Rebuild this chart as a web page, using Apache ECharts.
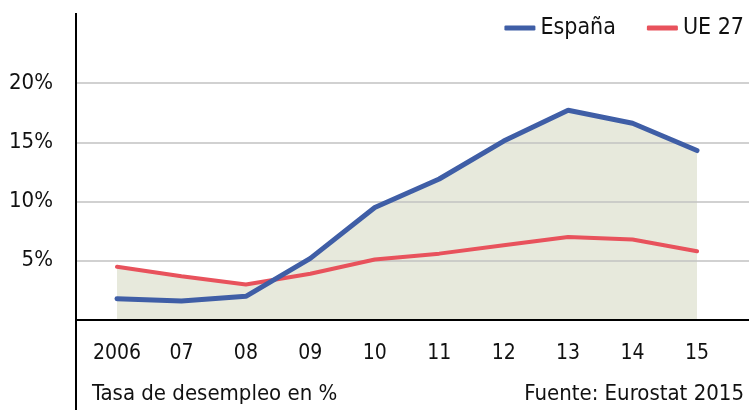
<!DOCTYPE html>
<html lang="es">
<head>
    <meta charset="utf-8" />
    <title>Tasa de desempleo</title>
    <script type="text/javascript" src="https://cdn.jsdelivr.net/npm/echarts@6/dist/echarts.min.js"></script>
    <style type="text/css">
        html, body { margin: 0; padding: 0; background: #fff; }
    </style>
</head>
<body>
    <div id="main" style="width:749px;height:410px;"></div>

    <script type="text/javascript">

        var years = ['2006', '07', '08', '09', '10', '11', '12', '13', '14', '15'];
        var espana = [1.8, 1.6, 2.0, 5.2, 9.5, 11.9, 15.1, 17.7, 16.6, 14.3];
        var ue27 = [4.5, 3.7, 3.0, 3.9, 5.1, 5.6, 6.3, 7.0, 6.8, 5.8];
        var yTicks = [0, 5, 10, 15, 20];

        var FONT = "'Liberation Sans Narrow', 'Arial Narrow', 'DejaVu Sans Condensed', sans-serif";
        var BLUE = '#3f5ea6';
        var RED = '#e8525c';
        var FILL = '#e7e9dc';

        var myChart = echarts.init(document.getElementById('main'));

        var option = {
            animation: false,
            textStyle: { fontFamily: FONT, color: '#111' },
            title: [{
                text: 'Tasa de desempleo en %',
                left: 87,
                top: 378,
                textStyle: { fontFamily: FONT, fontSize: 22, fontWeight: 'normal', color: '#111' }
            }, {
                text: 'Fuente: Eurostat 2015',
                right: 0,
                top: 378,
                textStyle: { fontFamily: FONT, fontSize: 22, fontWeight: 'normal', color: '#111' }
            }],
            legend: {
                data: [
                    { name: 'España', icon: 'roundRect', itemStyle: { color: BLUE } },
                    { name: 'UE 27', icon: 'roundRect', itemStyle: { color: RED } }
                ],
                right: 0,
                top: 10,
                itemWidth: 31,
                itemHeight: 5,
                itemGap: 31,
                textStyle: { fontFamily: FONT, fontSize: 23, color: '#111', lineHeight: 26 }
            },
            grid: [
                // frame: grid lines and axis lines
                { left: 76, right: 0, top: 83, bottom: 90 },
                // data area
                { left: 117, right: 52, top: 83, bottom: 90 }
            ],
            xAxis: [{
                gridIndex: 0,
                type: 'value',
                min: 0,
                max: 1,
                z: 3,
                axisLine: { show: true, lineStyle: { color: '#000', width: 2 } },
                axisTick: { show: false },
                axisLabel: { show: false },
                splitLine: { show: false }
            }, {
                gridIndex: 1,
                type: 'category',
                boundaryGap: false,
                data: years,
                axisLine: { show: false },
                axisTick: { show: false },
                axisLabel: { interval: 0, margin: 23, fontFamily: FONT, fontSize: 21, color: '#111' },
                splitLine: { show: false }
            }],
            yAxis: [{
                gridIndex: 0,
                type: 'value',
                min: yTicks[0],
                max: yTicks[yTicks.length - 1],
                interval: 5,
                z: 2,
                axisLine: { show: false },
                axisTick: { show: false },
                axisLabel: {
                    margin: 23,
                    fontFamily: FONT,
                    fontSize: 22,
                    color: '#111',
                    formatter: function (v) { return v === 0 ? '' : v + '%'; }
                },
                splitLine: { show: true, lineStyle: { color: '#c2c2c2', width: 1.5 } }
            }, {
                gridIndex: 1,
                type: 'value',
                min: yTicks[0],
                max: yTicks[yTicks.length - 1],
                show: false
            }],
            graphic: [{
                type: 'line',
                z: 10,
                shape: { x1: 76, y1: 13, x2: 76, y2: 410 },
                style: { stroke: '#000', lineWidth: 2 }
            }],
            series: [{
                name: 'fillUE',
                type: 'line',
                xAxisIndex: 1,
                yAxisIndex: 1,
                z: 1,
                symbol: 'none',
                lineStyle: { width: 0 },
                areaStyle: { color: FILL, opacity: 1 },
                data: ue27
            }, {
                name: 'fillES',
                type: 'line',
                xAxisIndex: 1,
                yAxisIndex: 1,
                z: 1,
                symbol: 'none',
                lineStyle: { width: 0 },
                areaStyle: { color: FILL, opacity: 1 },
                data: espana
            }, {
                name: 'UE 27',
                type: 'line',
                xAxisIndex: 1,
                yAxisIndex: 1,
                z: 4,
                symbol: 'none',
                color: RED,
                lineStyle: { color: RED, width: 4, cap: 'round' },
                data: ue27
            }, {
                name: 'España',
                type: 'line',
                xAxisIndex: 1,
                yAxisIndex: 1,
                z: 5,
                symbol: 'none',
                color: BLUE,
                lineStyle: { color: BLUE, width: 5, cap: 'round' },
                data: espana
            }]
        };
        myChart.setOption(option, true);

    </script>
</body>
</html>
